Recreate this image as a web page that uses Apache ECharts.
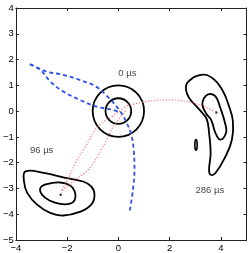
<!DOCTYPE html>
<html><head><meta charset="utf-8">
<script src="https://cdn.jsdelivr.net/npm/echarts@6/dist/echarts.min.js"></script>
<style>html,body{margin:0;padding:0;background:#fff}#c{width:249px;height:253px}</style>
</head><body><div id="c"></div>
<script>
const xTicks = [-4, -2, 0, 2, 4];
const yTicks = [-5, -4, -3, -2, -1, 0, 1, 2, 3, 4];
// circles at 0 µs: [cx, cy, r]
const circles0 = [[0, 0, 1], [0, 0, 0.5]];
// 96 µs contours
const c96outer = [[-3.62,-2.34],[-2.91,-2.40],[-2.02,-2.60],[-1.38,-2.73],[-1.06,-2.92],[-0.93,-3.24],[-1.06,-3.63],[-1.51,-3.91],[-2.15,-4.05],[-2.66,-3.95],[-3.17,-3.63],[-3.55,-3.18],[-3.68,-2.73]];
const c96inner = [[-3.04,-2.98],[-2.79,-2.83],[-2.27,-2.77],[-1.89,-2.88],[-1.70,-3.12],[-1.70,-3.44],[-1.89,-3.59],[-2.27,-3.60],[-2.66,-3.48],[-2.98,-3.24]];
// 286 µs contours
const c286outer = [[3.22,1.41],[3.67,1.28],[4.05,0.83],[4.30,0.24],[4.47,-0.40],[4.43,-1.11],[4.18,-1.76],[3.79,-2.40],[3.60,-2.47],[3.54,-2.28],[3.60,-1.63],[3.54,-0.85],[3.46,-0.34],[3.30,-0.10],[3.03,0.20],[2.77,0.50],[2.64,0.83],[2.71,1.12]];
const c286inner = [[3.54,0.66],[3.79,0.57],[3.98,0.12],[4.18,-0.53],[4.20,-0.85],[3.98,-1.11],[3.79,-0.85],[3.62,-0.34],[3.43,-0.10],[3.28,0.24],[3.34,0.50]];
const c286blob = [[3.03,-1.10],[3.07,-1.20],[3.07,-1.42],[3.03,-1.52],[2.99,-1.42],[2.99,-1.20]];
// center dots
const dots = [[-2.25,-3.24],[3.82,-0.05]];
// blue dashed trajectories
const blueA = [[-3.45,1.82],[-3.04,1.60],[-2.66,1.15],[-2.15,0.76],[-1.51,0.44],[-0.87,0.18],[-0.23,0.05],[0.09,-0.06]];
const blueB = [[-3.45,1.82],[-2.79,1.53],[-2.15,1.41],[-1.51,1.21],[-0.87,0.95],[-0.36,0.50],[0.03,0.05],[0.30,-0.40],[0.50,-0.90],[0.60,-1.50],[0.63,-2.27],[0.57,-3.05],[0.45,-3.85]];
// red dotted trajectories
const redArc = [[0.35,0.20],[1.07,0.37],[1.97,0.44],[2.86,0.33],[3.40,0.15],[3.82,-0.05]];
const redA = [[0.35,0.22],[-0.20,-0.18],[-0.80,-0.60],[-1.25,-1.31],[-1.64,-1.95],[-1.95,-2.60],[-2.21,-3.10]];
const redB = [[0.28,0.00],[-0.20,-0.60],[-0.49,-1.18],[-1.12,-2.21],[-1.76,-2.73],[-2.15,-3.05],[-2.25,-3.15]];
// annotations
const labelNames = ['0 µs', '96 µs', '286 µs'];
const labelPos = [[0.0, 1.48], [-3.45, -1.54], [3.01, -3.08]];

const FONT = "'Liberation Sans', Arial, sans-serif";
const minus = v => String(v).replace('-', '\u2212');

function contourSeries(pts, lw) {
  return {
    type: 'custom', coordinateSystem: 'cartesian2d', silent: true, clip: false,
    data: pts,
    renderItem: function (params, api) {
      if (params.dataIndex !== 0) return null;
      const p = pts.map(q => api.coord(q));
      return { type: 'polygon', shape: { points: p, smooth: 0.45 },
        style: { fill: 'none', stroke: '#000', lineWidth: lw } };
    }
  };
}
function lineSeries(pts, color, type, w) {
  return { type: 'line', data: pts, smooth: 0.35, symbol: 'none', silent: true,
    lineStyle: { color: color, width: w, type: type } };
}

const chart = echarts.init(document.getElementById('c'), null, { renderer: 'canvas' });
const axisCommon = {
  type: 'value',
  axisLine: { show: true, onZero: false, lineStyle: { color: '#222', width: 1 } },
  axisTick: { show: true, inside: true, length: 3, lineStyle: { color: '#222' } },
  splitLine: { show: false }
};
chart.setOption({
  animation: false,
  backgroundColor: '#fff',
  grid: { left: 12.5, right: 2.5, top: 8, bottom: 12.5, show: false },
  xAxis: [
    Object.assign({}, axisCommon, { min: -4, max: 5, interval: 2, position: 'bottom',
      axisLabel: { show: true, margin: 3, fontSize: 9.5, fontFamily: FONT, color: '#000', showMaxLabel: false,
        formatter: v => xTicks.includes(v) ? minus(v) : '' } }),
    Object.assign({}, axisCommon, { min: -4, max: 5, interval: 2, position: 'top',
      axisLabel: { show: false } })
  ],
  yAxis: [
    Object.assign({}, axisCommon, { min: -5, max: 4, interval: 1, position: 'left',
      axisLabel: { show: true, margin: 2, fontSize: 9.5, fontFamily: FONT, color: '#000',
        formatter: v => yTicks.includes(v) ? minus(v) : '' } }),
    Object.assign({}, axisCommon, { min: -5, max: 4, interval: 1, position: 'right',
      axisLabel: { show: false } })
  ],
  series: [
    lineSeries(redArc, '#ff5a5a', [1, 2], 1.2),
    lineSeries(redA, '#ff5a5a', [1, 2], 1.2),
    lineSeries(redB, '#ff5a5a', [1, 2], 1.2),
    {
      type: 'custom', coordinateSystem: 'cartesian2d', silent: true,
      data: circles0,
      renderItem: function (params, api) {
        const c = api.coord([api.value(0), api.value(1)]);
        const s = api.size([api.value(2), api.value(2)]);
        return { type: 'circle', shape: { cx: c[0], cy: c[1], r: (s[0] + s[1]) / 2 },
          style: { fill: 'none', stroke: '#000', lineWidth: 1.8 } };
      }
    },
    contourSeries(c96outer, 1.8),
    contourSeries(c96inner, 1.8),
    contourSeries(c286outer, 1.8),
    contourSeries(c286inner, 1.8),
    contourSeries(c286blob, 1.6),
    lineSeries(blueA, '#2f4fe8', [4, 3], 1.8),
    lineSeries(blueB, '#2f4fe8', [4, 3], 1.8),
    { type: 'scatter', data: dots, symbol: 'circle', symbolSize: 2.5, silent: true,
      itemStyle: { color: '#000' } },
    { type: 'scatter', silent: true, symbolSize: 0,
      data: labelPos.map((p, i) => ({ value: p, name: labelNames[i] })),
      label: { show: true, position: 'right', distance: 0, formatter: p => p.name,
        fontSize: 9.5, fontFamily: FONT, color: '#111', verticalAlign: 'middle' } }
  ]
});
</script></body></html>
